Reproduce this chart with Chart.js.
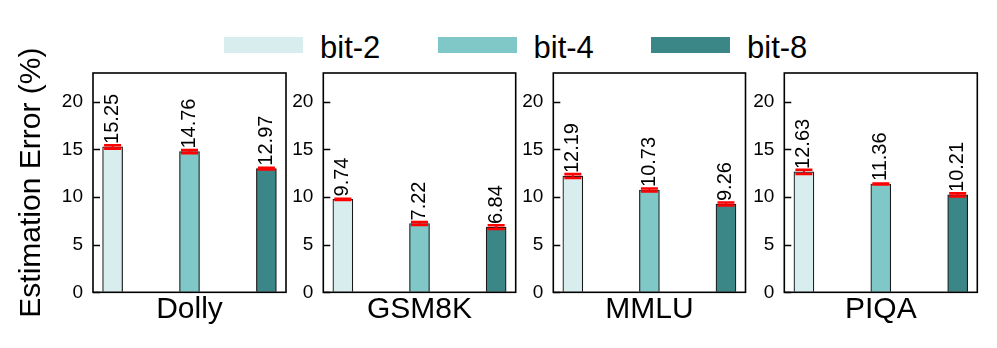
<!DOCTYPE html>
<html><head><meta charset="utf-8">
<script src="https://cdn.jsdelivr.net/npm/chart.js@4.4.1/dist/chart.umd.min.js"></script>
<style>
body{margin:0;background:#fff;}
#wrap{position:relative;width:997px;height:348px;overflow:hidden;background:#fff;font-family:"Liberation Sans",Arial,sans-serif;}
#wrap canvas{position:absolute;left:0;top:0;}
.patch{position:absolute;top:37px;width:79px;height:16px;}
.ltxt{position:absolute;top:32px;font-size:31px;line-height:31px;color:#000;white-space:nowrap;}
</style></head>
<body>
<div id="wrap"></div>
<script>
// ---- data ----
const panels = ['Dolly', 'GSM8K', 'MMLU', 'PIQA'];
const seriesNames = ['bit-2', 'bit-4', 'bit-8'];
const bit2 = [15.25, 9.74, 12.19, 12.63];
const bit4 = [14.76, 7.22, 10.73, 11.36];
const bit8 = [12.97, 6.84, 9.26, 10.21];
const err2 = [0.18, 0.06, 0.20, 0.22];
const err4 = [0.16, 0.16, 0.16, 0.04];
const err8 = [0.09, 0.20, 0.16, 0.16];
const yTicks = [0, 5, 10, 15, 20];
const yMin = 0, yMax = 23;
const yTitle = 'Estimation Error (%)';

// ---- style ----
const colors = ['#d8eeee', '#80c8c8', '#3b8686'];
const FONT = '"Liberation Sans", Arial, sans-serif';
const W = 997, H = 348;
const panelLeft = [93, 323.3, 553.3, 784.3];
const panelRight = [286, 515.7, 745.5, 977.3];
const plotTop = 73, plotBottom = 292.3;
const xAxisH = 35;
const seriesVals = [bit2, bit4, bit8];
const seriesErr = [err2, err4, err8];

const wrap = document.getElementById('wrap');

// legend (HTML)
const legLeft = [224, 437.5, 651];
seriesNames.forEach((n, k) => {
  const p = document.createElement('div');
  p.className = 'patch';
  p.style.left = legLeft[k] + 'px';
  p.style.background = colors[k];
  wrap.appendChild(p);
  const t = document.createElement('div');
  t.className = 'ltxt';
  t.style.left = (legLeft[k] + 79 + 17) + 'px';
  t.textContent = n;
  wrap.appendChild(t);
});

const decor = {
  id: 'decor',
  afterDatasetsDraw(chart) {
    const ctx = chart.ctx;
    const ys = chart.scales.y;
    const a = chart.chartArea;
    const pi = chart.options.plugins.decor.panel;
    ctx.save();
    // error bars
    chart.data.datasets.forEach((ds, k) => {
      const meta = chart.getDatasetMeta(k);
      meta.data.forEach((el, j) => {
        const v = ds.data[j].y;
        const e = seriesErr[k][pi];
        const x = el.x;
        const y1 = ys.getPixelForValue(v - e), y2 = ys.getPixelForValue(v + e);
        ctx.strokeStyle = '#ff0000';
        ctx.lineWidth = 2;
        ctx.beginPath();
        ctx.moveTo(x, y1); ctx.lineTo(x, y2);
        ctx.stroke();
        ctx.lineWidth = 2.6;
        ctx.beginPath();
        ctx.moveTo(x - 8.5, y1); ctx.lineTo(x + 8.5, y1);
        ctx.moveTo(x - 8.5, y2); ctx.lineTo(x + 8.5, y2);
        ctx.stroke();
      });
    });
    // value labels
    chart.data.datasets.forEach((ds, k) => {
      const meta = chart.getDatasetMeta(k);
      meta.data.forEach((el, j) => {
        const v = ds.data[j].y;
        ctx.save();
        ctx.translate(el.x, ys.getPixelForValue(v) - 3);
        ctx.rotate(-Math.PI / 2);
        ctx.fillStyle = '#000';
        ctx.font = '20px ' + FONT;
        ctx.textAlign = 'left';
        ctx.textBaseline = 'middle';
        ctx.fillText(v.toFixed(2), 0, 0);
        ctx.restore();
      });
    });
    // inward ticks
    ctx.strokeStyle = '#000';
    ctx.lineWidth = 1.3;
    ctx.beginPath();
    ys.ticks.forEach(t => {
      const y = Math.round(ys.getPixelForValue(t.value)) + 0.5;
      ctx.moveTo(a.left, y); ctx.lineTo(a.left + 7, y);
    });
    ctx.stroke();
    // frame
    ctx.lineWidth = 1.6;
    ctx.strokeRect(a.left, a.top, a.right - a.left, a.bottom - a.top);
    ctx.restore();
  }
};

panels.forEach((name, i) => {
  const c = document.createElement('canvas');
  c.width = W; c.height = H;
  c.style.width = W + 'px'; c.style.height = H + 'px';
  wrap.appendChild(c);
  const yW = i === 0 ? 79 : 60;
  new Chart(c, {
    type: 'bar',
    data: {
      datasets: seriesNames.map((s, k) => ({
        label: s,
        data: [{ x: k, y: seriesVals[k][i] }],
        backgroundColor: colors[k],
        borderColor: '#1a1a1a',
        borderWidth: 1.2,
        barThickness: 20,
        grouped: false
      }))
    },
    options: {
      responsive: false,
      animation: false,
      devicePixelRatio: 1,
      layout: {
        padding: {
          left: panelLeft[i] - yW,
          right: W - panelRight[i],
          top: plotTop,
          bottom: H - plotBottom - xAxisH
        }
      },
      plugins: {
        legend: { display: false },
        tooltip: { enabled: false },
        decor: { panel: i }
      },
      scales: {
        x: {
          type: 'linear',
          offset: false,
          min: -0.255, max: 2.255,
          grid: { display: false, drawTicks: false, offset: false },
          border: { display: false },
          ticks: { display: false },
          title: { display: true, text: name, color: '#000', font: { family: FONT, size: 30 }, padding: 0 },
          afterFit: s => { s.height = xAxisH; }
        },
        y: {
          min: yMin, max: yMax,
          afterBuildTicks: s => { s.ticks = yTicks.map(v => ({ value: v })); },
          grid: { drawOnChartArea: false, drawTicks: false },
          border: { display: false },
          ticks: { color: '#000', font: { family: FONT, size: 19 }, padding: 10 },
          title: { display: i === 0, text: yTitle, color: '#000', font: { family: FONT, size: 30 }, padding: 0 },
          afterFit: s => { s.width = yW; }
        }
      }
    },
    plugins: [decor]
  });
});
</script>
</body></html>
